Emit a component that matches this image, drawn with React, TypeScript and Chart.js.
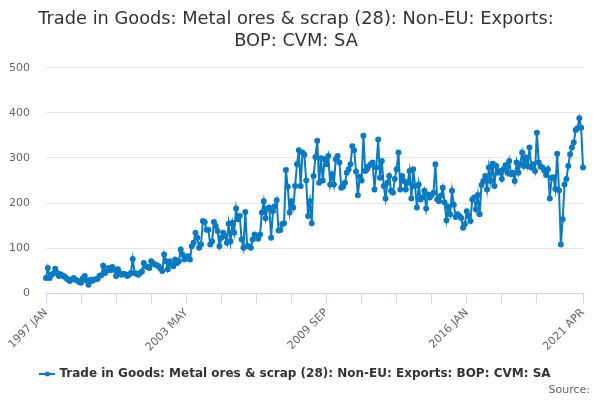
import React, { useEffect, useRef } from "react";
import { Chart, registerables } from "chart.js";

Chart.register(...registerables);

const seriesName = "Trade in Goods: Metal ores & scrap (28): Non-EU: Exports: BOP: CVM: SA";
const titleLines = ["Trade in Goods: Metal ores & scrap (28): Non-EU: Exports:", "BOP: CVM: SA"];
const sourceText = "Source:";
const monthNames = ["JAN", "FEB", "MAR", "APR", "MAY", "JUN", "JUL", "AUG", "SEP", "OCT", "NOV", "DEC"];
const firstYear = 1997;

// 1997 JAN - 2001 DEC
const values1997to2001 = [
  34, 56, 34, 41, 44, 54, 45, 38, 42, 39, 37, 33,
  30, 27, 31, 34, 30, 28, 25, 23, 33, 38, 28, 19,
  30, 27, 30, 31, 32, 39, 40, 61, 45, 50, 56, 51,
  58, 52, 38, 53, 45, 41, 43, 42, 38, 41, 45, 76,
  45, 43, 41, 45, 48, 67, 60, 58, 56, 71, 66, 64,
];
// 2002 JAN - 2006 DEC
const values2002to2006 = [
  62, 60, 55, 49, 86, 71, 53, 71, 64, 60, 75, 67,
  71, 97, 86, 75, 79, 82, 75, 104, 112, 134, 123, 101,
  108, 160, 158, 141, 141, 108, 115, 158, 149, 138, 104, 123,
  134, 127, 112, 154, 115, 156, 134, 188, 164, 171, 119, 101,
  180, 104, 104, 101, 119, 130, 127, 121, 130, 179, 204, 166,
];
// 2007 JAN - 2011 DEC
const values2007to2011 = [
  188, 190, 123, 182, 193, 206, 139, 140, 153, 155, 273, 236,
  179, 204, 190, 238, 286, 317, 238, 312, 307, 250, 171, 204,
  155, 260, 302, 338, 245, 299, 250, 297, 286, 304, 241, 264,
  241, 297, 304, 290, 234, 236, 245, 267, 275, 286, 326, 317,
  270, 217, 258, 250, 349, 271, 275, 282, 286, 290, 230, 279,
];
// 2012 JAN - 2016 DEC
const values2012to2016 = [
  341, 256, 293, 238, 210, 245, 260, 227, 223, 253, 275, 312,
  230, 260, 249, 230, 245, 271, 210, 275, 238, 190, 241, 208,
  212, 227, 188, 219, 212, 218, 223, 286, 208, 204, 216, 234,
  201, 162, 191, 175, 227, 196, 169, 175, 171, 167, 145, 153,
  182, 171, 160, 208, 212, 186, 218, 175, 240, 249, 260, 230,
];
// 2017 JAN - 2021 APR
const values2017to2021 = [
  279, 249, 287, 238, 282, 267, 271, 253, 275, 284, 267, 293,
  264, 267, 249, 290, 267, 286, 312, 282, 301, 282, 323, 279,
  286, 271, 356, 290, 281, 279, 272, 262, 275, 210, 256, 257,
  231, 309, 228, 108, 164, 241, 253, 282, 308, 323, 334, 362,
  366, 388, 367, 279,
];

const values = [
  ...values1997to2001,
  ...values2002to2006,
  ...values2007to2011,
  ...values2012to2016,
  ...values2017to2021,
];
const labels = values.map(
  (_, i) => `${firstYear + Math.floor(i / 12)} ${monthNames[i % 12]}`
);

const lineColor = "#0a7bc2";
const gridStep = 19;
const labelStep = 76;

function legendSymbol(): HTMLCanvasElement {
  const c = document.createElement("canvas");
  c.width = 16;
  c.height = 8;
  const ctx = c.getContext("2d");
  if (ctx) {
    ctx.strokeStyle = lineColor;
    ctx.lineWidth = 2;
    ctx.beginPath();
    ctx.moveTo(0, 4);
    ctx.lineTo(16, 4);
    ctx.stroke();
    ctx.fillStyle = lineColor;
    ctx.beginPath();
    ctx.arc(8, 4, 2.5, 0, Math.PI * 2);
    ctx.fill();
  }
  return c;
}

// small credit line in the bottom right corner
const sourcePlugin = {
  id: "sourceText",
  afterDraw(chart: Chart) {
    const { ctx, width } = chart;
    ctx.save();
    ctx.font = "11px 'DejaVu Sans', sans-serif";
    ctx.fillStyle = "#666666";
    ctx.textAlign = "right";
    ctx.textBaseline = "middle";
    ctx.fillText(sourceText, width - 10, 390);
    ctx.restore();
  },
};

const App: React.FC = () => {
  const canvasRef = useRef<HTMLCanvasElement | null>(null);
  const chartRef = useRef<Chart | null>(null);

  useEffect(() => {
    if (chartRef.current) {
      chartRef.current.destroy();
    }
    if (!canvasRef.current) return;

    const last = values.length - 1;
    const symbol = legendSymbol();
    Chart.defaults.font.family = "'DejaVu Sans', sans-serif";

    chartRef.current = new Chart(canvasRef.current, {
      type: "line",
      data: {
        labels,
        datasets: [
          {
            label: seriesName,
            data: values,
            borderColor: lineColor,
            backgroundColor: lineColor,
            borderWidth: 2,
            pointRadius: 2,
            pointHoverRadius: 3,
            tension: 0,
          },
        ],
      },
      plugins: [sourcePlugin],
      options: {
        animation: false,
        responsive: true,
        maintainAspectRatio: false,
        layout: { padding: { left: 9, right: 17, top: 7, bottom: 10 } },
        plugins: {
          title: {
            display: true,
            text: titleLines,
            color: "#333333",
            font: { size: 17.8, weight: "normal" },
            padding: { top: 2, bottom: 16 },
          },
          legend: {
            position: "bottom",
            labels: {
              color: "#333333",
              font: { size: 12, weight: "bold" },
              usePointStyle: true,
              boxWidth: 16,
              boxHeight: 8,
              padding: 11,
              generateLabels: (chart) => {
                const items = Chart.defaults.plugins.legend.labels.generateLabels(chart);
                items.forEach((it) => {
                  it.pointStyle = symbol;
                });
                return items;
              },
            },
          },
          tooltip: { enabled: false },
        },
        scales: {
          x: {
            afterBuildTicks: (scale) => {
              scale.ticks = scale.ticks.filter(
                (t) => (t.value % gridStep === 0 && t.value <= last - gridStep / 2) || t.value === last
              );
            },
            afterFit: (scale) => {
              scale.paddingLeft = 0;
              scale.paddingRight = 0;
            },
            ticks: {
              autoSkip: false,
              minRotation: 45,
              maxRotation: 45,
              color: "#666666",
              font: { size: 11 },
              padding: 3,
              callback: function (value) {
                const v = Number(value);
                return v % labelStep === 0 || v === last ? labels[v] : "";
              },
            },
            grid: {
              drawOnChartArea: false,
              drawTicks: true,
              tickLength: 10,
              color: "#ccd6eb",
            },
            border: { color: "#ccd6eb" },
          },
          y: {
            min: 0,
            max: 500,
            afterFit: (scale) => {
              scale.width = 37;
            },
            ticks: {
              stepSize: 100,
              color: "#666666",
              font: { size: 11 },
              padding: 16,
            },
            grid: { color: "#e6e6e6", drawTicks: false },
            border: { display: false },
          },
        },
      },
    });

    return () => {
      if (chartRef.current) {
        chartRef.current.destroy();
        chartRef.current = null;
      }
    };
  }, []);

  return (
    <div style={{ position: "fixed", left: 0, top: 0, width: 600, height: 400, background: "#fff" }}>
      <canvas ref={canvasRef}></canvas>
    </div>
  );
};

export default App;
